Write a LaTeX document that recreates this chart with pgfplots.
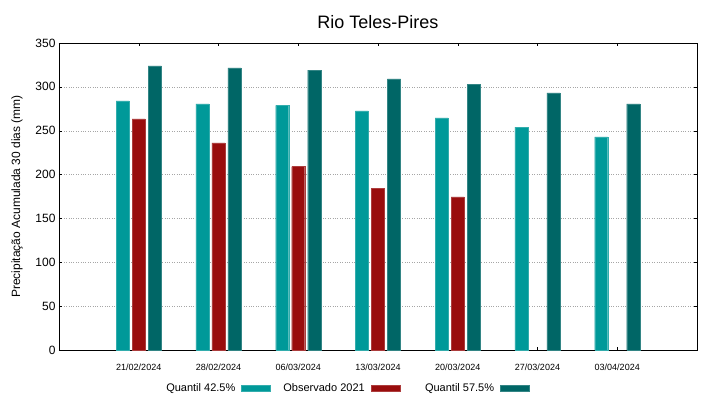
\documentclass[border=0pt]{standalone}
\usepackage{pgfplots}
\pgfplotsset{compat=1.18}
\usepackage{fontspec}
\setmainfont{Liberation Sans}
\definecolor{qlow}{RGB}{0,153,153}
\definecolor{obs}{RGB}{153,13,13}
\definecolor{qhigh}{RGB}{0,102,102}
\begin{document}
\begin{tikzpicture}
\useasboundingbox (-59pt,-49pt) rectangle (660pt,350pt);
\begin{axis}[
  at={(0pt,0pt)}, anchor=south west,
  scale only axis, width=638pt, height=307pt,
  xmin=-1, xmax=7, ymin=0, ymax=350,
  ybar, bar width=13pt,
  xtick={0,...,6},
  xticklabels={21/02/2024,28/02/2024,06/03/2024,13/03/2024,20/03/2024,27/03/2024,03/04/2024},
  x tick label style={font=\fontsize{9}{10}\selectfont, yshift=-10pt},
  ytick={0,50,...,350},
  y tick label style={font=\fontsize{12}{13}\selectfont},
  /pgf/number format/assume math mode=true,
  tick align=inside, major tick length=3pt,
  tick style={black, thin},
  ymajorgrids, grid style={gray!70, dotted, thin},
  axis line style={black, thin},
  ylabel={Precipitação Acumulada 30 dias (mm)},
  ylabel style={font=\fontsize{12}{13}\selectfont, yshift=6pt},
  title={Rio Teles-Pires},
  title style={font=\fontsize{18}{20}\selectfont, yshift=5pt},
  legend columns=3,
  legend plot pos=right,
  legend style={draw=none, fill=none, font=\fontsize{11}{12}\selectfont,
    at={(0.449,-0.124)}, anchor=center, inner sep=0pt, column sep=0pt,
    nodes={inner xsep=0pt}},
  legend image code/.code={\path (0pt,0pt); \fill[#1] (6pt,-2.8pt) rectangle (35pt,2.8pt); \path (45pt,0pt);},
]
\addplot[fill=qlow, draw=qlow!80!white, bar shift=-16pt] coordinates {(0,284) (1,280.5) (2,279) (3,272.5) (4,264.5) (5,254) (6,243)};
\addlegendentry{\makebox[84pt][r]{Quantil 42.5\%}}
\addplot[fill=obs, draw=obs!80!white, bar shift=0pt] coordinates {(0,263.5) (1,236) (2,209) (3,184.5) (4,174.5)};
\addlegendentry{\makebox[84pt][r]{Observado 2021}}
\addplot[fill=qhigh, draw=qhigh!80!white, bar shift=16pt] coordinates {(0,324) (1,321.5) (2,319) (3,309) (4,303) (5,293) (6,280.5)};
\addlegendentry{\makebox[84pt][r]{Quantil 57.5\%}}
\end{axis}
\end{tikzpicture}
\end{document}
